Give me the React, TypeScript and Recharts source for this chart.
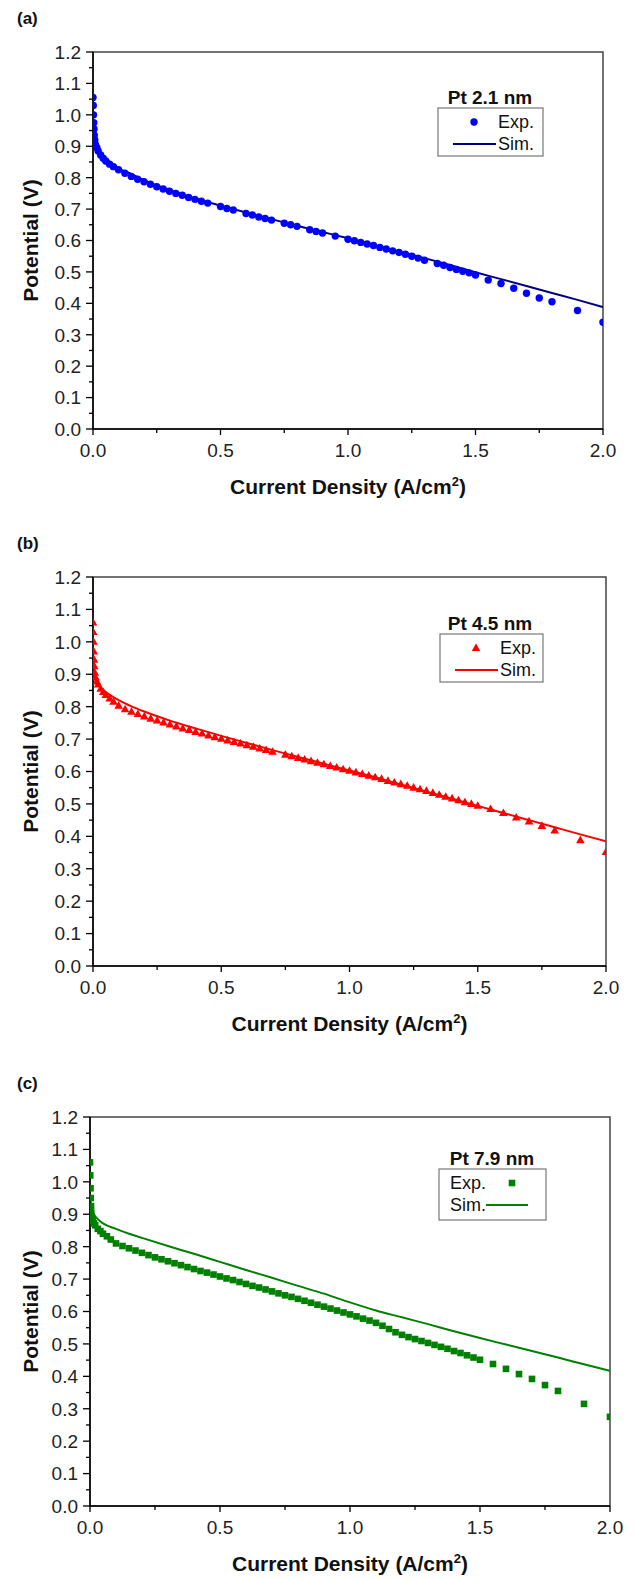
import { ComposedChart, Scatter, Line, XAxis, YAxis, ReferenceArea, Legend } from 'recharts'

const FONT = 'Arial, "Liberation Sans", sans-serif'

// tick positions
const X_TICKS = [0, 0.25, 0.5, 0.75, 1, 1.25, 1.5, 1.75, 2]
const X_LABELS = [0, 0.5, 1, 1.5, 2]
const Y_TICKS = [
  0, 0.05, 0.1, 0.15, 0.2, 0.25, 0.3, 0.35, 0.4, 0.45, 0.5, 0.55, 0.6,
  0.65, 0.7, 0.75, 0.8, 0.85, 0.9, 0.95, 1, 1.05, 1.1, 1.15, 1.2,
]
const Y_LABELS = [0, 0.1, 0.2, 0.3, 0.4, 0.5, 0.6, 0.7, 0.8, 0.9, 1, 1.1, 1.2]

// (a) Pt 2.1 nm : [current density, potential]
const expA = [
  [0, 1.055], [0.001, 1.03], [0.002, 1.0], [0.003, 0.975], [0.004, 0.955], [0.005, 0.935],
  [0.007, 0.92], [0.01, 0.905], [0.015, 0.895], [0.02, 0.885], [0.03, 0.872], [0.04, 0.862],
  [0.05, 0.853], [0.065, 0.843], [0.08, 0.835], [0.1, 0.825], [0.125, 0.814], [0.15, 0.804],
  [0.175, 0.795], [0.2, 0.787], [0.225, 0.779], [0.25, 0.771], [0.275, 0.764], [0.3, 0.757],
  [0.325, 0.75], [0.35, 0.744], [0.375, 0.737], [0.4, 0.731], [0.425, 0.725], [0.45, 0.719],
  [0.5, 0.708], [0.525, 0.702], [0.55, 0.697], [0.6, 0.686], [0.625, 0.681], [0.65, 0.675],
  [0.675, 0.67], [0.7, 0.665], [0.75, 0.655], [0.775, 0.65], [0.8, 0.645], [0.85, 0.634],
  [0.875, 0.629], [0.9, 0.624], [0.95, 0.614], [1.0, 0.604], [1.025, 0.599], [1.05, 0.594],
  [1.075, 0.589], [1.1, 0.584], [1.125, 0.578], [1.15, 0.573], [1.175, 0.567], [1.2, 0.562],
  [1.225, 0.556], [1.25, 0.55], [1.275, 0.544], [1.3, 0.537], [1.35, 0.527], [1.375, 0.521],
  [1.4, 0.514], [1.425, 0.508], [1.45, 0.502], [1.475, 0.497], [1.5, 0.49], [1.55, 0.474],
  [1.6, 0.463], [1.65, 0.448], [1.7, 0.432], [1.75, 0.417], [1.8, 0.405], [1.9, 0.377], [2.0, 0.34],
]
const simA = [
  [0, 0.945], [0.002, 0.925], [0.005, 0.91], [0.01, 0.898], [0.02, 0.885], [0.04, 0.866],
  [0.07, 0.848], [0.1, 0.83], [0.15, 0.812], [0.2, 0.792], [0.3, 0.761], [0.4, 0.734],
  [0.5, 0.711], [0.6, 0.689], [0.7, 0.668], [0.8, 0.647], [0.9, 0.627], [1.0, 0.607],
  [1.1, 0.586], [1.2, 0.565], [1.3, 0.544], [1.4, 0.522], [1.5, 0.499], [1.6, 0.477],
  [1.7, 0.455], [1.8, 0.433], [1.9, 0.411], [2.0, 0.388],
]

// (b) Pt 4.5 nm
const expB = [
  [0, 1.06], [0.001, 1.03], [0.002, 1.0], [0.003, 0.97], [0.004, 0.945], [0.005, 0.925],
  [0.007, 0.905], [0.01, 0.89], [0.015, 0.878], [0.02, 0.868], [0.03, 0.855], [0.04, 0.845],
  [0.05, 0.836], [0.065, 0.825], [0.08, 0.815], [0.1, 0.803], [0.125, 0.792], [0.15, 0.784],
  [0.175, 0.777], [0.2, 0.77], [0.225, 0.763], [0.25, 0.757], [0.275, 0.751], [0.3, 0.745],
  [0.325, 0.739], [0.35, 0.733], [0.375, 0.728], [0.4, 0.722], [0.425, 0.717], [0.45, 0.711],
  [0.475, 0.706], [0.5, 0.701], [0.525, 0.696], [0.55, 0.691], [0.575, 0.686], [0.6, 0.681],
  [0.625, 0.676], [0.65, 0.671], [0.675, 0.666], [0.7, 0.661], [0.75, 0.652], [0.775, 0.647],
  [0.8, 0.642], [0.825, 0.637], [0.85, 0.632], [0.875, 0.627], [0.9, 0.622], [0.925, 0.617],
  [0.95, 0.612], [0.975, 0.607], [1.0, 0.602], [1.025, 0.597], [1.05, 0.592], [1.075, 0.587],
  [1.1, 0.582], [1.125, 0.577], [1.15, 0.571], [1.175, 0.566], [1.2, 0.561], [1.225, 0.556],
  [1.25, 0.55], [1.275, 0.545], [1.3, 0.54], [1.325, 0.534], [1.35, 0.528], [1.375, 0.522],
  [1.4, 0.517], [1.425, 0.511], [1.45, 0.505], [1.475, 0.5], [1.5, 0.494], [1.55, 0.484],
  [1.6, 0.472], [1.65, 0.458], [1.7, 0.446], [1.75, 0.432], [1.8, 0.418], [1.9, 0.388], [2.0, 0.352],
]
const simB = [
  [0, 0.95], [0.005, 0.9], [0.01, 0.882], [0.02, 0.867], [0.05, 0.845], [0.1, 0.82],
  [0.15, 0.801], [0.2, 0.785], [0.3, 0.757], [0.4, 0.733], [0.5, 0.71], [0.6, 0.688],
  [0.7, 0.666], [0.8, 0.645], [0.9, 0.624], [1.0, 0.603], [1.1, 0.582], [1.2, 0.56],
  [1.3, 0.538], [1.4, 0.516], [1.5, 0.494], [1.6, 0.472], [1.7, 0.45], [1.8, 0.428],
  [1.9, 0.406], [2.0, 0.385],
]

// (c) Pt 7.9 nm
const expC = [
  [0, 1.06], [0.001, 1.02], [0.002, 0.98], [0.003, 0.95], [0.004, 0.925], [0.005, 0.905],
  [0.007, 0.89], [0.01, 0.88], [0.015, 0.872], [0.02, 0.866], [0.03, 0.855], [0.04, 0.848],
  [0.05, 0.84], [0.065, 0.832], [0.08, 0.822], [0.1, 0.81], [0.125, 0.802], [0.15, 0.795],
  [0.175, 0.788], [0.2, 0.781], [0.225, 0.774], [0.25, 0.767], [0.275, 0.761], [0.3, 0.755],
  [0.325, 0.749], [0.35, 0.743], [0.375, 0.737], [0.4, 0.731], [0.425, 0.725], [0.45, 0.72],
  [0.475, 0.714], [0.5, 0.708], [0.525, 0.702], [0.55, 0.697], [0.575, 0.691], [0.6, 0.685],
  [0.625, 0.679], [0.65, 0.674], [0.675, 0.668], [0.7, 0.662], [0.725, 0.656], [0.75, 0.65],
  [0.775, 0.645], [0.8, 0.639], [0.825, 0.633], [0.85, 0.627], [0.875, 0.621], [0.9, 0.615],
  [0.925, 0.609], [0.95, 0.603], [0.975, 0.597], [1.0, 0.591], [1.025, 0.585], [1.05, 0.578],
  [1.075, 0.572], [1.1, 0.565], [1.125, 0.556], [1.15, 0.546], [1.175, 0.536], [1.2, 0.528],
  [1.225, 0.521], [1.25, 0.515], [1.275, 0.509], [1.3, 0.503], [1.325, 0.497], [1.35, 0.491],
  [1.375, 0.485], [1.4, 0.478], [1.425, 0.472], [1.45, 0.465], [1.475, 0.458], [1.5, 0.451],
  [1.55, 0.438], [1.6, 0.423], [1.65, 0.407], [1.7, 0.392], [1.75, 0.373], [1.8, 0.355],
  [1.9, 0.315], [2.0, 0.275],
]
const simC = [
  [0, 0.96], [0.003, 0.935], [0.008, 0.915], [0.015, 0.9], [0.03, 0.885], [0.05, 0.872],
  [0.1, 0.855], [0.15, 0.84], [0.2, 0.827], [0.3, 0.802], [0.4, 0.778], [0.5, 0.753],
  [0.6, 0.728], [0.7, 0.704], [0.8, 0.679], [0.9, 0.655], [1.0, 0.628], [1.1, 0.603],
  [1.2, 0.582], [1.3, 0.561], [1.4, 0.539], [1.5, 0.518], [1.6, 0.498], [1.7, 0.478],
  [1.8, 0.458], [1.9, 0.437], [2.0, 0.417],
]

const toPts = (arr: number[][]) => arr.map(([x, y]) => ({ x, y }))
const isIn = (list: number[], v: number) => list.some((l) => Math.abs(l - v) < 1e-6)

function XTick(props: any) {
  const { x, y, payload } = props
  const major = isIn(X_LABELS, payload.value)
  return (
    <g>
      <line x1={x} x2={x} y1={y} y2={y + (major ? 6 : 4)} stroke="#000" strokeWidth={1.3} />
      {major && (
        <text x={x} y={y + 28} textAnchor="middle" fontSize={19} fontFamily={FONT} fill="#222">
          {payload.value.toFixed(1)}
        </text>
      )}
    </g>
  )
}

function YTick(props: any) {
  const { x, y, payload } = props
  const major = isIn(Y_LABELS, payload.value)
  return (
    <g>
      <line x1={x} x2={x - (major ? 7 : 4)} y1={y} y2={y} stroke="#000" strokeWidth={1.3} />
      {major && (
        <text x={x - 12} y={y} dy="0.36em" textAnchor="end" fontSize={19} fontFamily={FONT} fill="#222">
          {payload.value.toFixed(1)}
        </text>
      )}
    </g>
  )
}

function Marker({ shape, cx, cy, color }: { shape: string; cx: number; cy: number; color: string }) {
  if (shape === 'triangle') {
    return <polygon points={`${cx},${cy - 4.6} ${cx + 4.3},${cy + 3} ${cx - 4.3},${cy + 3}`} fill={color} />
  }
  if (shape === 'square') {
    return <rect x={cx - 3.3} y={cy - 3.3} width={6.6} height={6.6} fill={color} />
  }
  return <circle cx={cx} cy={cy} r={3.7} fill={color} />
}

type LegendCfg = {
  left: number
  top: number
  titleX: number
  boxX: number
  boxY: number
  boxW: number
  boxH: number
  textFirst: boolean
}

function LegendBox({ title, cfg, expColor, simColor, shape }: any) {
  const c: LegendCfg = cfg
  const r1 = c.boxY + 14
  const r2 = c.boxY + 36
  const textX = c.textFirst ? c.boxX + 11 : c.boxX + 60
  const markX = c.textFirst ? c.boxX + 73 : c.boxX + 36
  const lineX1 = c.textFirst ? c.boxX + 47 : c.boxX + 15
  const lineX2 = c.textFirst ? c.boxX + 89 : c.boxX + 58
  return (
    <svg width={140} height={c.boxY + c.boxH + 4} style={{ display: 'block' }}>
      <text x={c.titleX} y={c.boxY - 4} textAnchor="middle" fontSize={19} fontWeight="bold" fontFamily={FONT} fill="#111">
        {title}
      </text>
      <rect x={c.boxX} y={c.boxY} width={c.boxW} height={c.boxH} fill="#fff" stroke="#777" strokeWidth={1.2} />
      <Marker shape={shape} cx={markX} cy={r1} color={expColor} />
      <text x={textX} y={r1 + 6} fontSize={18} fontFamily={FONT} fill="#111">Exp.</text>
      <line x1={lineX1} x2={lineX2} y1={r2} y2={r2} stroke={simColor} strokeWidth={2} />
      <text x={textX} y={r2 + 6} fontSize={18} fontFamily={FONT} fill="#111">Sim.</text>
    </svg>
  )
}

type PanelProps = {
  tag: string
  title: string
  exp: number[][]
  sim: number[][]
  expColor: string
  simColor: string
  shape: string
  top: number
  height: number
  plotLeft: number
  plotRight: number
  plotBottom: number
  legend: LegendCfg
}

function Panel(p: PanelProps) {
  const W = 635
  const plotTop = 52
  const xAxisH = 70
  const midX = (p.plotLeft + p.plotRight) / 2
  const midY = (plotTop + p.plotBottom) / 2
  return (
    <div style={{ position: 'absolute', left: 0, top: p.top, width: W, height: p.height }}>
      <ComposedChart
        width={W}
        height={p.height}
        margin={{ top: plotTop, right: W - p.plotRight, bottom: p.height - p.plotBottom - xAxisH, left: 0 }}
      >
        <XAxis
          type="number"
          dataKey="x"
          domain={[0, 2]}
          ticks={X_TICKS}
          interval={0}
          allowDataOverflow
          height={xAxisH}
          tickSize={0}
          tickMargin={0}
          tickLine={false}
          axisLine={{ stroke: '#000', strokeWidth: 1.5 }}
          tick={<XTick />}
          label={() => (
            <text x={midX} y={p.plotBottom + 65} textAnchor="middle" fontSize={21} fontWeight="bold" fontFamily={FONT} fill="#111">
              Current Density (A/cm<tspan dy={-8} fontSize={13}>2</tspan><tspan dy={8}>)</tspan>
            </text>
          )}
        />
        <YAxis
          type="number"
          dataKey="y"
          domain={[0, 1.2]}
          ticks={Y_TICKS}
          interval={0}
          allowDataOverflow
          width={p.plotLeft}
          tickSize={0}
          tickMargin={0}
          tickLine={false}
          axisLine={{ stroke: '#000', strokeWidth: 1.5 }}
          tick={<YTick />}
          label={() => (
            <g>
              <text x={17} y={24} fontSize={17} fontWeight="bold" fontFamily={FONT} fill="#111">
                {p.tag}
              </text>
              <text
                x={38}
                y={midY}
                transform={`rotate(-90 38 ${midY})`}
                textAnchor="middle"
                fontSize={21}
                fontWeight="bold"
                fontFamily={FONT}
                fill="#111"
              >
                Potential (V)
              </text>
            </g>
          )}
        />
        <ReferenceArea x1={0} x2={2} y1={0} y2={1.2} fill="none" stroke="#444" strokeWidth={1.5} />
        <Scatter
          data={toPts(p.exp)}
          dataKey="y"
          isAnimationActive={false}
          shape={(s: any) => <Marker shape={p.shape} cx={s.cx} cy={s.cy} color={p.expColor} />}
        />
        <Line
          data={toPts(p.sim)}
          dataKey="y"
          type="monotone"
          stroke={p.simColor}
          strokeWidth={2}
          dot={false}
          activeDot={false}
          isAnimationActive={false}
        />
        <Legend
          layout="horizontal"
          verticalAlign="middle"
          align="center"
          wrapperStyle={{ left: p.legend.left, top: p.legend.top, width: 140, height: 'auto' }}
          content={() => (
            <LegendBox title={p.title} cfg={p.legend} expColor={p.expColor} simColor={p.simColor} shape={p.shape} />
          )}
        />
      </ComposedChart>
    </div>
  )
}

export default function App() {
  return (
    <div style={{ position: 'absolute', left: 0, top: 0, width: 635, height: 1580, background: '#fff' }}>
      <Panel
        tag="(a)"
        title="Pt 2.1 nm"
        exp={expA}
        sim={simA}
        expColor="#0000ff"
        simColor="#000080"
        shape="circle"
        top={0}
        height={525}
        plotLeft={93}
        plotRight={603}
        plotBottom={429}
        legend={{ left: 430, top: 80, titleX: 60, boxX: 8, boxY: 28, boxW: 105, boxH: 48, textFirst: false }}
      />
      <Panel
        tag="(b)"
        title="Pt 4.5 nm"
        exp={expB}
        sim={simB}
        expColor="#ff0000"
        simColor="#ff0000"
        shape="triangle"
        top={525}
        height={540}
        plotLeft={93}
        plotRight={606}
        plotBottom={441}
        legend={{ left: 430, top: 80, titleX: 60, boxX: 10, boxY: 29, boxW: 103, boxH: 48, textFirst: false }}
      />
      <Panel
        tag="(c)"
        title="Pt 7.9 nm"
        exp={expC}
        sim={simC}
        expColor="#008000"
        simColor="#008000"
        shape="square"
        top={1065}
        height={515}
        plotLeft={90}
        plotRight={610}
        plotBottom={441}
        legend={{ left: 430, top: 70, titleX: 62, boxX: 9, boxY: 34, boxW: 107, boxH: 51, textFirst: true }}
      />
    </div>
  )
}
